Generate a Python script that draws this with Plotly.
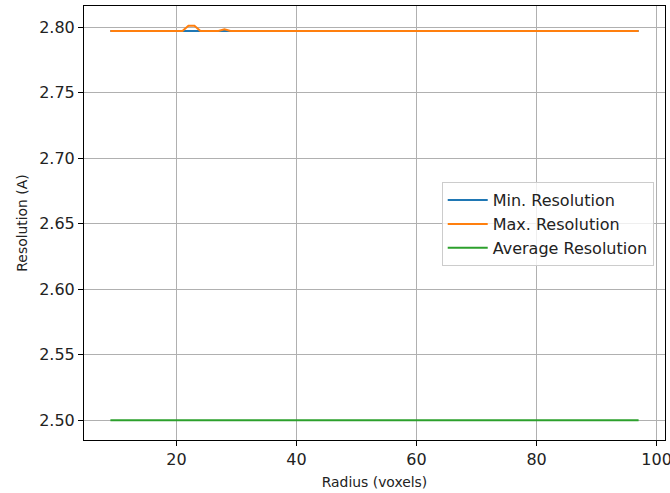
import plotly.graph_objects as go

radius = list(range(9, 98))
min_res = [2.797] * len(radius)
max_res = [2.797] * len(radius)
for r, v in [(22, 2.801), (23, 2.801), (28, 2.7983)]:
    max_res[radius.index(r)] = v
avg_res = [2.5] * len(radius)

names = ["Min. Resolution", "Max. Resolution", "Average Resolution"]
colors = ["#1f77b4", "#ff7f0e", "#2ca02c"]
series = [min_res, max_res, avg_res]

FONT = "DejaVu Sans"
TICK = 16
LABEL = 13.9
fig = go.Figure()
for i, (n, c, s) in enumerate(zip(names, colors, series)):
    fig.add_trace(go.Scatter(x=radius, y=s, mode="lines", name=n,
                             line=dict(color=c, width=2)))

xmin, xmax = min(radius), max(radius)
ymin = min(min(s) for s in series)
ymax = max(max(s) for s in series)
dx = (xmax - xmin) * 0.05
dy = (ymax - ymin) * 0.05

axis_common = dict(showline=True, mirror=True, linecolor="black", linewidth=1,
                   ticks="outside", ticklen=5, tickwidth=1, tickcolor="black",
                   showgrid=True, gridcolor="#b0b0b0", gridwidth=1, zeroline=False,
                   automargin=False, ticklabeloverflow="allow",
                   tickfont=dict(family=FONT, size=TICK, color="#222222"))

fig.update_layout(
    width=670, height=493,
    margin=dict(l=84, r=5, t=6, b=53),
    paper_bgcolor="white", plot_bgcolor="white",
    font=dict(family=FONT, size=LABEL, color="black"),
    xaxis=dict(range=[xmin - dx, xmax + dx], tickvals=[20, 40, 60, 80, 100],
               title=dict(text="Radius (voxels)", standoff=9,
                          font=dict(family=FONT, size=LABEL, color="#222222")),
               **axis_common),
    yaxis=dict(range=[ymin - dy, ymax + dy], tickformat=".2f", dtick=0.05,
               title=dict(text="Resolution (A)", standoff=8,
                          font=dict(family=FONT, size=LABEL, color="#222222")),
               **axis_common),
    legend=dict(x=0.6157, y=0.594, xanchor="left", yanchor="top",
                bgcolor="rgba(255,255,255,0.8)", bordercolor="#cccccc", borderwidth=1,
                itemwidth=40,
                font=dict(family=FONT, size=TICK, color="#222222")),
    showlegend=True,
)

fig.write_html("out.html", config={"displayModeBar": False},
               post_script="document.body.style.margin='0';document.body.style.overflow='hidden';")
